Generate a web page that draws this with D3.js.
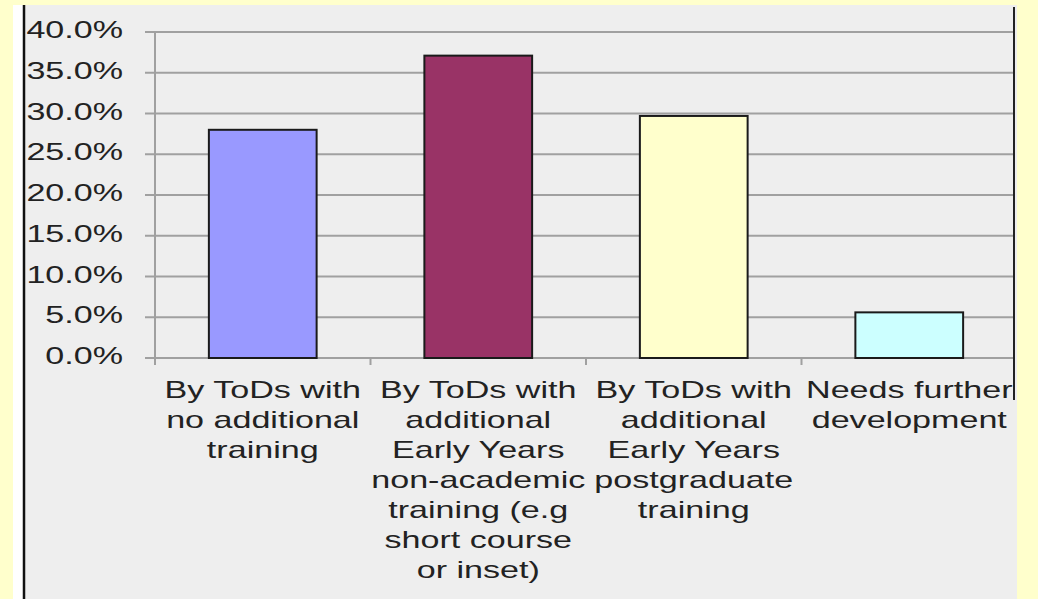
<!DOCTYPE html>
<html>
<head>
<meta charset="utf-8">
<script src="https://cdn.jsdelivr.net/npm/d3@7"></script>
<style>
body { margin: 0; background: #ffffcc; overflow: hidden; }
text { font-family: "Liberation Sans", Arial, sans-serif; font-size: 24px; fill: #222; }
</style>
</head>
<body>
<div id="chart"></div>
<script>
var width = 1038,
    height = 599;

// category labels, already broken into lines as in the picture
var categories = [
  ["By ToDs with", "no additional", "training"],
  ["By ToDs with", "additional", "Early Years", "non-academic", "training (e.g", "short course", "or inset)"],
  ["By ToDs with", "additional", "Early Years", "postgraduate", "training"],
  ["Needs further", "development"]
];
var values = [0.280, 0.371, 0.297, 0.056];
var colors = ["#9999ff", "#993366", "#ffffcc", "#ccffff"];
var yTicks = [0, 0.05, 0.10, 0.15, 0.20, 0.25, 0.30, 0.35, 0.40];

var stretch = 1.42; // text in the original is wide

var svg = d3.select('#chart').append('svg')
  .attr('width', width)
  .attr('height', height);

// backgrounds
svg.append('rect').attr('width', width).attr('height', height).attr('fill', '#ffffcc');
svg.append('rect').attr('x', 13).attr('y', 5).attr('width', 11).attr('height', height - 5).attr('fill', '#ffffff');
svg.append('rect').attr('x', 24).attr('y', 5).attr('width', 1017 - 24).attr('height', height - 5).attr('fill', '#eeeeee');
svg.append('line').attr('x1', 24).attr('x2', 24).attr('y1', 5).attr('y2', height)
  .attr('stroke', '#111').attr('stroke-width', 2.5);
svg.append('line').attr('x1', 1014).attr('x2', 1014).attr('y1', 7).attr('y2', 400)
  .attr('stroke', '#222').attr('stroke-width', 2);

var x = d3.scaleBand()
  .domain(d3.range(categories.length))
  .range([155, 1017])
  .paddingInner(0.5)
  .paddingOuter(0.25);

var y = d3.scaleLinear()
  .domain([0, 0.4])
  .range([358, 32]);

var g = svg.append('g');

// gridlines (they also make the outside ticks of the value axis)
g.selectAll('line.grid')
  .data(yTicks).enter()
  .append('line')
  .attr('class', 'grid')
  .attr('x1', 145).attr('x2', 1013)
  .attr('y1', function(d) { return y(d); })
  .attr('y2', function(d) { return y(d); })
  .attr('stroke', '#a0a0a0')
  .attr('stroke-width', 2);

// value axis line
g.append('line')
  .attr('x1', 155).attr('x2', 155)
  .attr('y1', y(0.4)).attr('y2', y(0) + 7)
  .attr('stroke', '#a0a0a0').attr('stroke-width', 2);

// category axis ticks at band boundaries
var bounds = d3.range(categories.length + 1).map(function(i) { return x.range()[0] + i * x.step(); });
g.selectAll('line.xtick')
  .data(bounds.slice(1, categories.length)).enter()
  .append('line')
  .attr('class', 'xtick')
  .attr('x1', function(d) { return d; }).attr('x2', function(d) { return d; })
  .attr('y1', y(0)).attr('y2', y(0) + 7)
  .attr('stroke', '#a0a0a0').attr('stroke-width', 2);

// bars
g.selectAll('rect.bar')
  .data(values).enter()
  .append('rect')
  .attr('class', 'bar')
  .attr('x', function(d, i) { return x(i); })
  .attr('width', x.bandwidth())
  .attr('y', function(d) { return y(d); })
  .attr('height', function(d) { return y(0) - y(d); })
  .attr('fill', function(d, i) { return colors[i]; })
  .attr('stroke', '#1a1a1a')
  .attr('stroke-width', 2);

// value labels
var fmt = d3.format('.1%');
g.selectAll('g.ylab')
  .data(yTicks).enter()
  .append('g')
  .attr('class', 'ylab')
  .attr('transform', function(d) { return 'translate(123,' + (y(d) + 6) + ') scale(' + stretch + ',1)'; })
  .append('text')
  .attr('text-anchor', 'end')
  .text(function(d) { return fmt(d); });

// category labels
var cl = g.selectAll('g.xlab')
  .data(categories).enter()
  .append('g')
  .attr('class', 'xlab')
  .attr('transform', function(d, i) { return 'translate(' + (x(i) + x.bandwidth() / 2) + ',' + (y(0) + 40) + ') scale(' + stretch + ',1)'; });

cl.selectAll('text')
  .data(function(d) { return d; }).enter()
  .append('text')
  .attr('text-anchor', 'middle')
  .attr('y', function(d, j) { return j * 30; })
  .text(function(d) { return d; });
</script>
</body>
</html>
